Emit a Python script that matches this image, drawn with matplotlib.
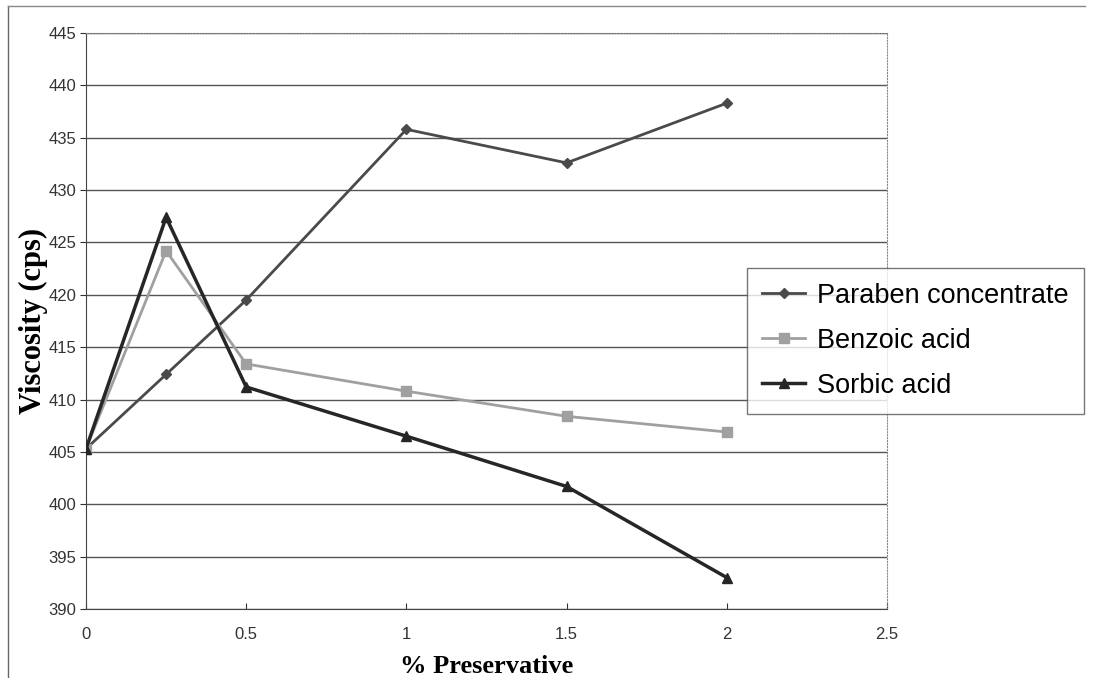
import matplotlib
matplotlib.use("Agg")
import matplotlib.pyplot as plt
from matplotlib.lines import Line2D

x = [0, 0.25, 0.5, 1, 1.5, 2]
paraben = [405.3, 412.4, 419.5, 435.8, 432.6, 438.3]
benzoic = [405.3, 424.2, 413.4, 410.8, 408.4, 406.9]
sorbic = [405.3, 427.4, 411.2, 406.5, 401.7, 393.0]
labels = ["Paraben concentrate", "Benzoic acid", "Sorbic acid"]

fig = plt.figure(figsize=(10.93, 6.78), dpi=100)
ax = fig.add_axes([86/1093, 1-609/678, (887-86)/1093, (609-33)/678])

ax.plot(x, paraben, color="#4a4a4a", lw=2, marker="D", ms=5, label=labels[0], zorder=3)
ax.plot(x, benzoic, color="#a0a0a0", lw=2, marker="s", ms=7, label=labels[1], zorder=3)
ax.plot(x, sorbic, color="#262626", lw=2.5, marker="^", ms=7, label=labels[2], zorder=3)

ax.set_xlim(0, 2.5)
ax.set_ylim(390, 445)
ax.set_xticks([0, 0.5, 1, 1.5, 2, 2.5])
ax.set_xticklabels(["0", "0.5", "1", "1.5", "2", "2.5"])
ax.set_yticks(range(390, 446, 5))
ax.yaxis.grid(True, color="#555555", lw=1)
ax.set_axisbelow(True)
for s in ["top", "right"]:
    ax.spines[s].set_linestyle(":")
    ax.spines[s].set_color("#888888")
for s in ["left", "bottom"]:
    ax.spines[s].set_linestyle((0, (2, 1)))
    ax.spines[s].set_color("#444444")
ax.tick_params(axis="y", direction="out", length=4, labelsize=12, colors="#333333", pad=3)
ax.tick_params(axis="x", direction="in", length=4, labelsize=12, colors="#333333", pad=13)
for t in ax.get_xticklabels() + ax.get_yticklabels():
    t.set_fontfamily("Liberation Sans")

ax.set_xlabel("% Preservative", family="Liberation Serif", fontweight="bold", fontsize=19, labelpad=9)
ax.set_ylabel("Viscosity (cps)", family="Liberation Serif", fontweight="bold", fontsize=22, labelpad=0)

leg = fig.legend(loc="upper left", bbox_to_anchor=(747/1093, 1-268/678), prop={"family": "Liberation Sans", "size": 19.5},
                 frameon=True, fancybox=False, edgecolor="#555555", handlelength=1.6, labelspacing=0.7,
                 borderpad=0.55, handletextpad=0.45, borderaxespad=0)
leg.get_frame().set_linewidth(1)

fig.lines.append(Line2D([8/1093, 8/1093], [0, 1 - 6/678], transform=fig.transFigure, color="#666666", lw=1))
fig.lines.append(Line2D([8/1093, 1085/1093], [1 - 6/678, 1 - 6/678], transform=fig.transFigure, color="#888888", lw=1))

fig.savefig("out.png", dpi=100)
